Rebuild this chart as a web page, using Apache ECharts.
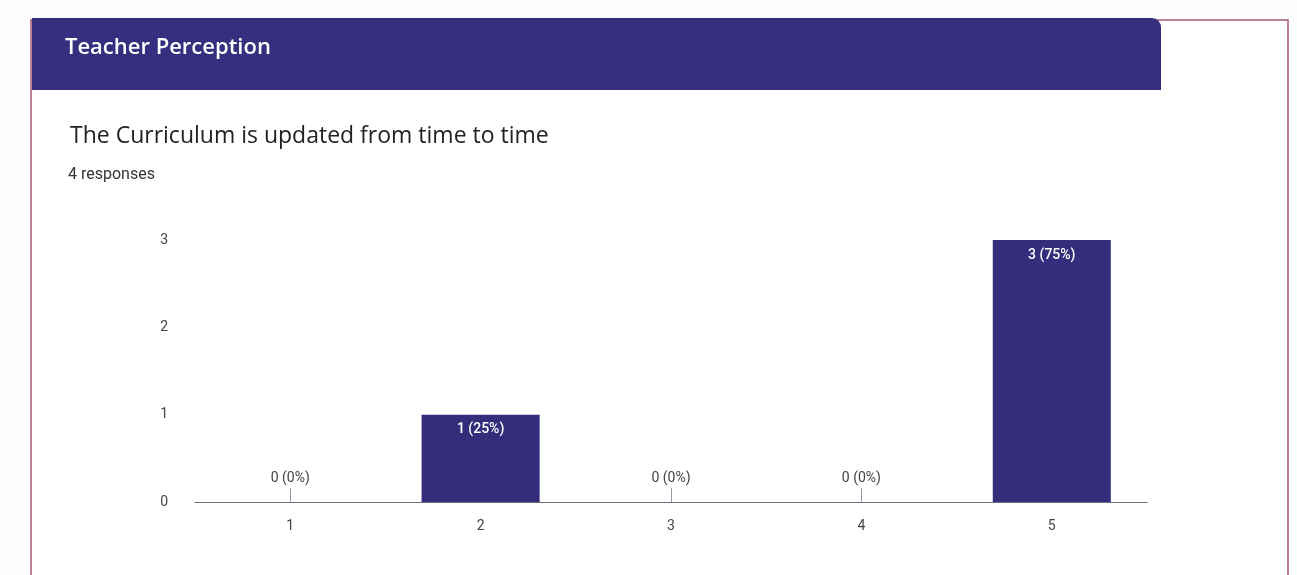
<!DOCTYPE html>
<html>
<head>
<meta charset="utf-8">
<script src="https://cdn.jsdelivr.net/npm/echarts@6/dist/echarts.min.js"></script>
<style>
html,body{margin:0;padding:0;background:#fdfdfd;}
#c{width:1297px;height:575px;}
</style>
</head>
<body>
<div id="c"></div>
<script>
const sectionTitle = 'Teacher Perception';
const question = 'The Curriculum is updated from time to time';
const responsesText = '4 responses';
const categories = ['1', '2', '3', '4', '5'];
const counts = [0, 1, 0, 0, 3];
const yTicks = [0, 1, 2, 3];

const total = counts.reduce((a, b) => a + b, 0);
const barColor = '#332d7c';

const chart = echarts.init(document.getElementById('c'));
chart.setOption({
  animation: false,
  backgroundColor: '#fdfdfd',
  graphic: [
    { type: 'rect', z: -1, shape: { x: 31, y: 20, width: 1257, height: 600 },
      style: { fill: '#ffffff', stroke: '#a4557a', lineWidth: 1.5 } },
    { type: 'rect', shape: { x: 32, y: 18, width: 1129, height: 72, r: [0, 9, 0, 0] },
      style: { fill: '#362f80' } },
    { type: 'text', left: 65, top: 37,
      style: { text: sectionTitle, fill: '#ffffff', font: '600 22px "Open Sans", Roboto, sans-serif' } },
    { type: 'text', left: 70, top: 125,
      style: { text: question, fill: '#222222', font: '23px "Open Sans", Roboto, sans-serif' } },
    { type: 'text', left: 68, top: 167,
      style: { text: responsesText, fill: '#333333', font: '16px Roboto, "Open Sans", sans-serif' } }
  ],
  grid: { left: 195, right: 150, top: 240, bottom: 73, containLabel: false },
  xAxis: {
    type: 'category',
    data: categories,
    axisLine: { lineStyle: { color: '#6b6b7a', width: 1 } },
    axisTick: { show: true, inside: true, length: 14, alignWithLabel: true, lineStyle: { color: '#9a9aa6' } },
    axisLabel: { color: '#444444', fontSize: 14, margin: 17, fontFamily: 'Roboto, sans-serif' }
  },
  yAxis: {
    type: 'value',
    min: yTicks[0],
    max: yTicks[yTicks.length - 1],
    interval: 1,
    splitLine: { show: false },
    axisLine: { show: false },
    axisTick: { show: false },
    axisLabel: { color: '#444444', fontSize: 14, margin: 27, fontFamily: 'Roboto, sans-serif' }
  },
  series: [{
    type: 'bar',
    data: counts.map(v => ({
      value: v,
      label: v === 0
        ? { position: 'top', distance: 17, color: '#444444' }
        : { position: 'insideTop', distance: 8, color: '#ffffff', fontWeight: 500 }
    })),
    barWidth: '62%',
    itemStyle: { color: barColor },
    label: {
      show: true,
      fontSize: 14,
      fontFamily: 'Roboto, sans-serif',
      formatter: p => p.value + ' (' + Math.round(p.value / total * 100) + '%)'
    }
  }]
});
</script>
</body>
</html>
